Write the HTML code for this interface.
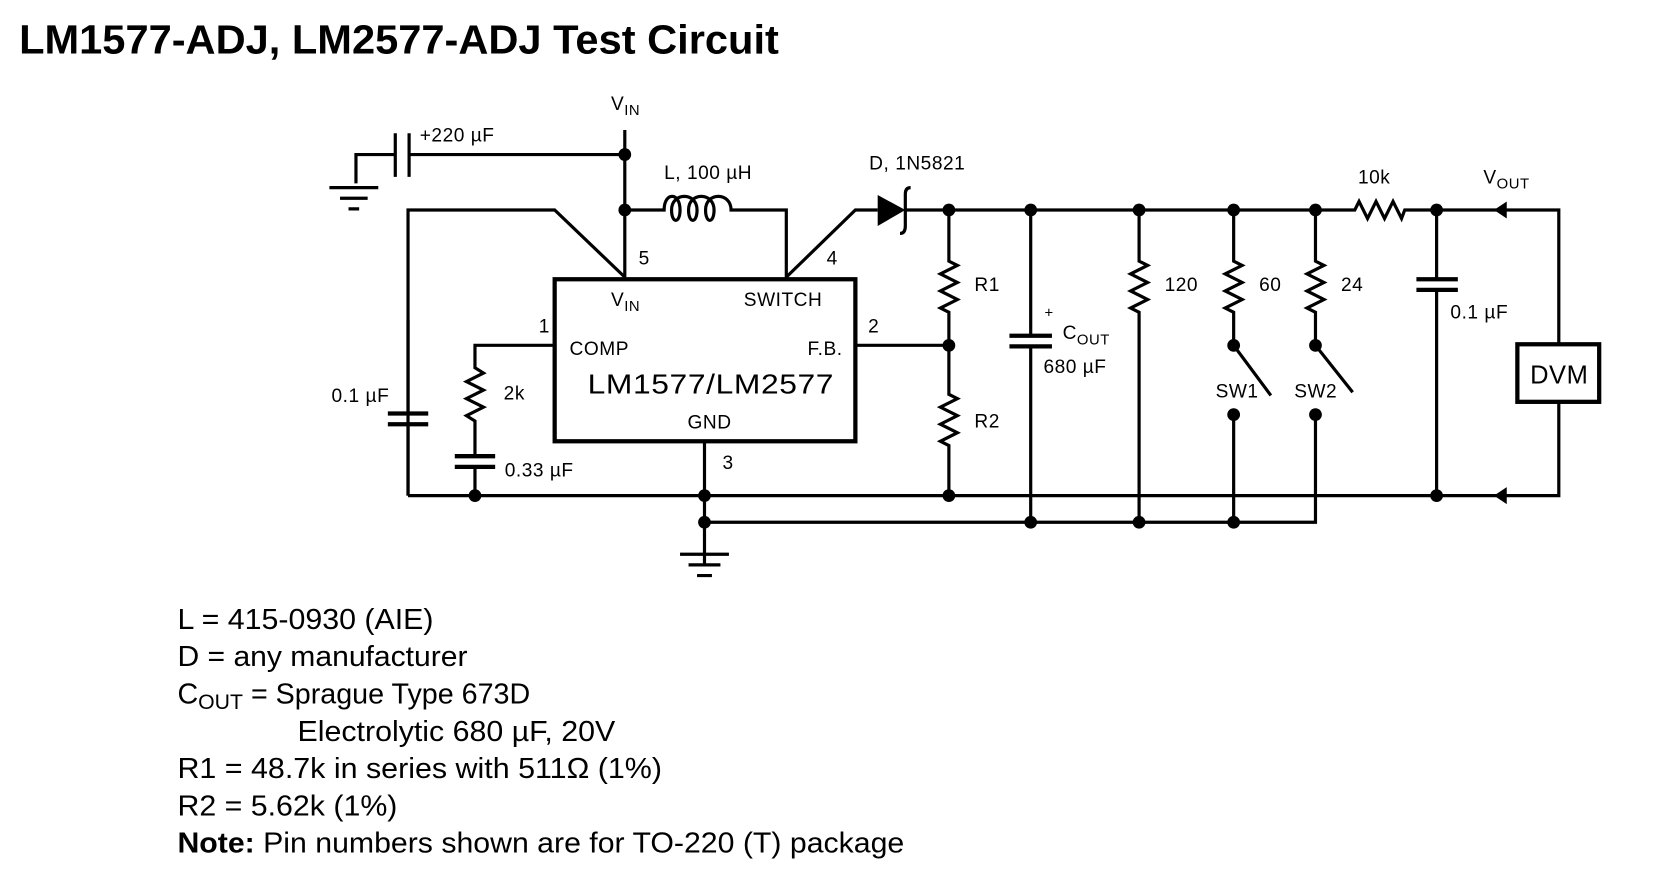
<!DOCTYPE html>
<html><head><meta charset="utf-8"><style>
html,body{margin:0;padding:0;background:#fff;}
svg{display:block;}
.s{font-family:"Liberation Sans Narrow","Liberation Sans",sans-serif;font-size:18px;fill:#000;letter-spacing:0.5px;}
.n{font-family:"Liberation Sans",sans-serif;font-size:27px;fill:#000;}
</style></head><body>
<svg width="1664" height="874" viewBox="0 0 1566 820" preserveAspectRatio="none" xmlns="http://www.w3.org/2000/svg">
<text x="18" y="50" font-family="Liberation Sans,sans-serif" font-weight="bold" font-size="38" textLength="715" lengthAdjust="spacingAndGlyphs">LM1577-ADJ, LM2577-ADJ Test Circuit</text>
<g stroke="#000" stroke-width="3" fill="none" stroke-linejoin="miter">
<path d="M588 122 V262"/>
<path d="M588 145 H385 M372 145 H335 V172"/>
<path d="M385 125 V166 M372 125 V166"/>
<path d="M310 176 H356 M320 186 H346 M328 196 H338"/>
<path d="M588 197 H625 C625 180 640 180 640 197 C640 210 632 210 632 197 C632 180 656 180 656 197 C656 210 648 210 648 197 C648 180 672 180 672 197 C672 210 664 210 664 197 C664 180 688 180 688 197 V197 H740 V262"/>
<path d="M384 465 V197 H522 L588 260"/>
<path d="M740 260 L805 197 H826"/>
<rect x="522" y="262" width="283" height="152" stroke-width="4"/>
<path d="M522 324 H447 V345 l8 5 l-16 8 l16 8 l-16 8 l16 8 l-16 8 l8 5 V428 M447 438 V465"/>
<path d="M428 428 H466 M428 438 H466" stroke-width="4"/>
<path d="M384 465 V398 M384 388 V300"/>
<path d="M365 388 H403 M365 398 H403" stroke-width="4"/>
<path d="M852 197 H1275 l4 -8 l8 16 l8 -16 l8 16 l8 -16 l8 16 l3 -8 H1467 V323 M1467 377 V465 H384"/>
<rect x="1428" y="323" width="77" height="54" stroke-width="4"/>
<path d="M663 414 V530 M663 490 H1238 V388"/>
<path d="M640 520 H686 M648 530 H678 M656 540 H670"/>
<path d="M893 197 V245 l8 4 l-16 8 l16 8 l-16 8 l16 8 l-16 8 l8 4 V370 l8 4 l-16 8 l16 8 l-16 8 l16 8 l-16 8 l8 4 V465"/>
<path d="M805 324 H893"/>
<path d="M970 197 V315 M970 325 V490"/>
<path d="M950 315 H990 M950 325 H990" stroke-width="4"/>
<path d="M1072 197 V245 l8 4 l-16 8 l16 8 l-16 8 l16 8 l-16 8 l8 4 V490"/>
<path d="M1161 197 V245 l8 4 l-16 8 l16 8 l-16 8 l16 8 l-16 8 l8 4 V324 L1196 371 M1161 388 V490"/>
<path d="M1238 197 V245 l8 4 l-16 8 l16 8 l-16 8 l16 8 l-16 8 l8 4 V324 L1273 368"/>
<path d="M1352 197 V262 M1352 272 V465"/>
<path d="M1333 262 H1372 M1333 272 H1372" stroke-width="4"/>
<path d="M852 182 V212 M852 182 q0 -6 5 -6 M852 212 q0 7 -5 7" stroke-width="3"/>
</g>
<g fill="#000">
<polygon points="826,183 826,212 852,197"/>
<polygon points="1406,197 1418,189 1418,205"/>
<polygon points="1406,465 1418,457 1418,473"/>
<circle cx="588" cy="145" r="6"/><circle cx="588" cy="197" r="6"/>
<circle cx="893" cy="197" r="6"/><circle cx="970" cy="197" r="6"/><circle cx="1072" cy="197" r="6"/><circle cx="1161" cy="197" r="6"/><circle cx="1238" cy="197" r="6"/><circle cx="1352" cy="197" r="6"/>
<circle cx="893" cy="324" r="6"/><circle cx="1161" cy="324" r="6"/><circle cx="1238" cy="324" r="6"/>
<circle cx="1161" cy="389" r="6"/><circle cx="1238" cy="389" r="6"/>
<circle cx="447" cy="465" r="6"/><circle cx="663" cy="465" r="6"/><circle cx="893" cy="465" r="6"/><circle cx="1352" cy="465" r="6"/>
<circle cx="663" cy="490" r="6"/><circle cx="970" cy="490" r="6"/><circle cx="1072" cy="490" r="6"/><circle cx="1161" cy="490" r="6"/>
</g>
<g class="s">
<text x="575" y="103">V<tspan font-size="14" dy="5">IN</tspan></text>
<text x="395" y="133">+220 µF</text>
<text x="625" y="168">L, 100 µH</text>
<text x="818" y="159">D, 1N5821</text>
<text x="1278" y="172">10k</text>
<text x="1396" y="172">V<tspan font-size="14" dy="5">OUT</tspan></text>
<text x="601" y="248">5</text>
<text x="778" y="248">4</text>
<text x="575" y="287">V<tspan font-size="14" dy="5">IN</tspan></text>
<text x="700" y="287">SWITCH</text>
<text x="507" y="312">1</text>
<text x="817" y="312">2</text>
<text x="536" y="333">COMP</text>
<text x="760" y="333">F.B.</text>
<text x="553" y="369" font-size="26" textLength="232" lengthAdjust="spacingAndGlyphs">LM1577/LM2577</text>
<text x="647" y="402">GND</text>
<text x="680" y="440">3</text>
<text x="474" y="375">2k</text>
<text x="312" y="377">0.1 µF</text>
<text x="475" y="447">0.33 µF</text>
<text x="917" y="273">R1</text>
<text x="917" y="401">R2</text>
<text x="983" y="298" font-size="14">+</text>
<text x="1000" y="318">C<tspan font-size="14" dy="5">OUT</tspan></text>
<text x="982" y="350">680 µF</text>
<text x="1096" y="273">120</text>
<text x="1185" y="273">60</text>
<text x="1262" y="273">24</text>
<text x="1365" y="299">0.1 µF</text>
<text x="1144" y="373">SW1</text>
<text x="1218" y="373">SW2</text>
<text x="1440" y="360" font-size="24">DVM</text>
</g>
<g class="n">
<text x="167" y="590" textLength="241" lengthAdjust="spacingAndGlyphs">L = 415-0930 (AIE)</text>
<text x="167" y="625" textLength="273" lengthAdjust="spacingAndGlyphs">D = any manufacturer</text>
<text x="167" y="660">C<tspan font-size="20" dy="5">OUT</tspan><tspan dy="-5"> = Sprague Type 673D</tspan></text>
<text x="280" y="695" textLength="299" lengthAdjust="spacingAndGlyphs">Electrolytic 680 µF, 20V</text>
<text x="167" y="730" textLength="456" lengthAdjust="spacingAndGlyphs">R1 = 48.7k in series with 511Ω (1%)</text>
<text x="167" y="765" textLength="207" lengthAdjust="spacingAndGlyphs">R2 = 5.62k (1%)</text>
<text x="167" y="800" textLength="684" lengthAdjust="spacingAndGlyphs"><tspan font-weight="bold">Note:</tspan> Pin numbers shown are for TO-220 (T) package</text>
</g>
</svg>
</body></html>
